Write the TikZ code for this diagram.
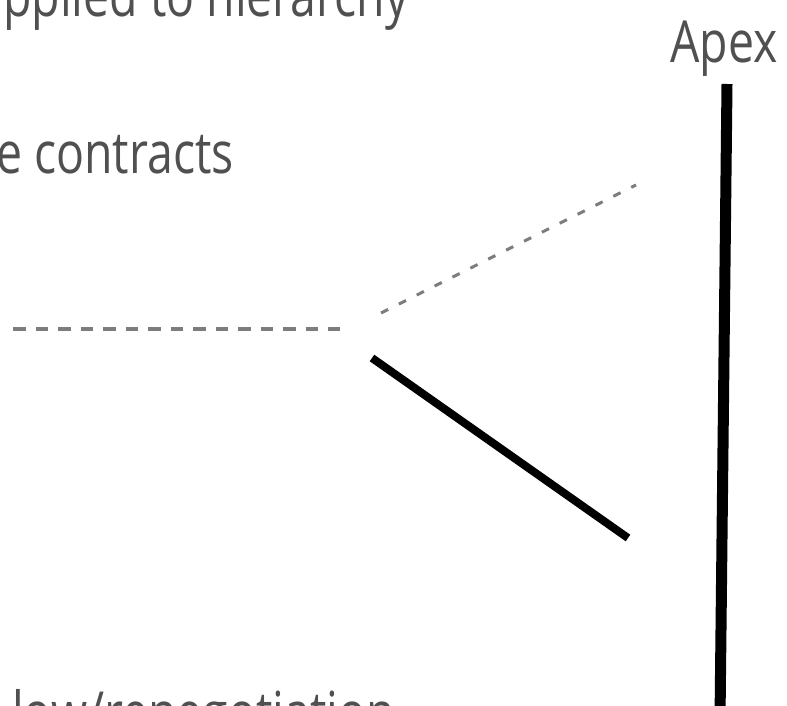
\documentclass[tikz,border=0pt]{standalone}
\usepackage{fontspec}
\setmainfont{Open Sans}[FakeStretch=0.80]
\definecolor{txtgray}{RGB}{80,80,80}
\definecolor{dashgray}{RGB}{125,125,125}
\tikzset{
  lbl/.style={font=\fontsize{58}{70}\selectfont, text=txtgray, inner sep=0pt, anchor=base west},
  longdash/.style={draw=dashgray, line width=3.5pt, dash pattern=on 12.5pt off 10pt},
  shortdash/.style={draw=dashgray, line width=3pt, dash pattern=on 8pt off 12pt},
  solidbar/.style={draw=black, line width=8pt},
  axisbar/.style={draw=black, line width=11pt}
}
\begin{document}
\begin{tikzpicture}[x=1pt,y=-1pt]
\useasboundingbox (0,0) rectangle (787,706);
\clip (0,0) rectangle (787,706);
\node[lbl] (t1) at (3,17) {pplied to hierarchy};
\node[lbl] (t2) at (-4,173) {e contracts};
\node[lbl] (t3) at (12,733) {low/renegotiation};
\node[lbl, anchor=base] (apex) at (724,63) {Apex};
\coordinate (h1) at (13,329);
\coordinate (h2) at (340,329);
\coordinate (d1) at (381,313);
\coordinate (d2) at (636,185);
\coordinate (s1) at (372,358);
\coordinate (s2) at (628,538);
\coordinate (v1) at (727,84);
\coordinate (v2) at (720,720);
\draw[longdash] (h1) -- (h2);
\draw[shortdash] (d1) -- (d2);
\draw[solidbar] (s1) -- (s2);
\draw[axisbar] (v1) -- (v2);
\end{tikzpicture}
\end{document}
